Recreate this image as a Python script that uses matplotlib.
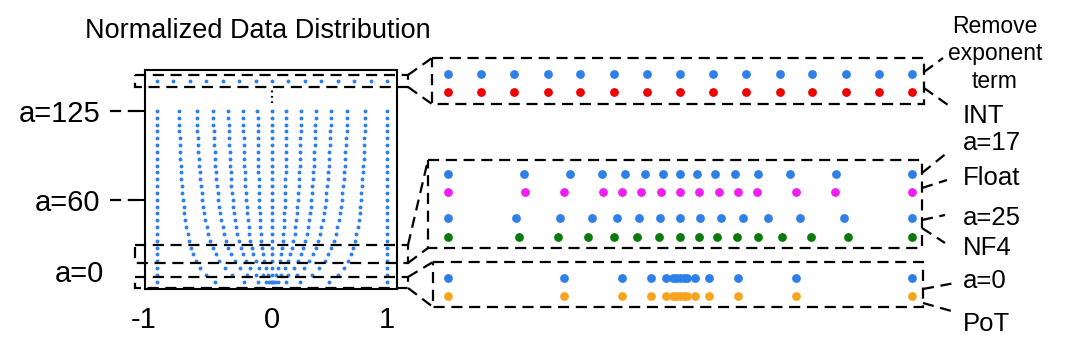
import matplotlib
matplotlib.use("Agg")
import matplotlib.pyplot as plt
from matplotlib.patches import Rectangle

plt.rcParams["font.family"] = ["Liberation Sans", "DejaVu Sans"]

# ---- data ----
# left panel: one row of 15 points per level of a; only the positive half is
# stored (the row is symmetric around 0, last value is always 1)
a_levels = [0, 5, 10, 15, 20, 25, 30, 35, 40, 45, 50, 55, 60,
            65, 70, 75, 80, 85, 90, 95, 100, 105, 110, 115, 120, 125]
row_half = [
    [0.008, 0.024, 0.055, 0.118, 0.244, 0.496, 1.0],
    [0.037, 0.080, 0.136, 0.216, 0.346, 0.574, 1.0],
    [0.056, 0.117, 0.188, 0.279, 0.411, 0.624, 1.0],
    [0.069, 0.142, 0.224, 0.323, 0.457, 0.659, 1.0],
    [0.079, 0.161, 0.251, 0.356, 0.491, 0.685, 1.0],
    [0.086, 0.175, 0.272, 0.381, 0.517, 0.705, 1.0],
    [0.092, 0.187, 0.288, 0.401, 0.537, 0.721, 1.0],
    [0.097, 0.196, 0.301, 0.417, 0.554, 0.734, 1.0],
    [0.101, 0.204, 0.312, 0.430, 0.568, 0.744, 1.0],
    [0.104, 0.210, 0.321, 0.441, 0.579, 0.753, 1.0],
    [0.107, 0.216, 0.329, 0.451, 0.589, 0.761, 1.0],
    [0.109, 0.221, 0.336, 0.459, 0.598, 0.768, 1.0],
    [0.112, 0.225, 0.342, 0.466, 0.605, 0.773, 1.0],
    [0.113, 0.229, 0.347, 0.473, 0.612, 0.778, 1.0],
    [0.115, 0.232, 0.352, 0.478, 0.618, 0.783, 1.0],
    [0.117, 0.235, 0.356, 0.483, 0.623, 0.787, 1.0],
    [0.118, 0.237, 0.360, 0.488, 0.627, 0.790, 1.0],
    [0.119, 0.240, 0.363, 0.492, 0.632, 0.794, 1.0],
    [0.120, 0.242, 0.366, 0.495, 0.635, 0.797, 1.0],
    [0.121, 0.244, 0.369, 0.499, 0.639, 0.799, 1.0],
    [0.122, 0.245, 0.371, 0.502, 0.642, 0.802, 1.0],
    [0.123, 0.247, 0.374, 0.505, 0.645, 0.804, 1.0],
    [0.124, 0.249, 0.376, 0.507, 0.648, 0.806, 1.0],
    [0.124, 0.250, 0.378, 0.510, 0.650, 0.808, 1.0],
    [0.125, 0.251, 0.380, 0.512, 0.653, 0.810, 1.0],
    [0.126, 0.252, 0.381, 0.514, 0.655, 0.811, 1.0],
]
top_level = 147  # "remove exponent term" row drawn above the curves

# right panels (positive halves, symmetric rows)
uniform_half = [0.143, 0.286, 0.429, 0.571, 0.714, 0.857, 1.0]
int_half = [0.143, 0.286, 0.429, 0.571, 0.714, 0.857, 1.0]
a17_half = [0.073, 0.150, 0.236, 0.337, 0.472, 0.671, 1.0]
float_half = [0.083, 0.167, 0.250, 0.333, 0.500, 0.667, 1.0]
a25_half = [0.086, 0.175, 0.272, 0.381, 0.517, 0.705, 1.0]
a0_half = [0.016, 0.031, 0.0625, 0.125, 0.25, 0.5, 1.0]
pot_half = [0.016, 0.031, 0.0625, 0.125, 0.25, 0.5, 1.0]
# NF4 is not symmetric
nf4_vals = [-1.0, -0.696, -0.525, -0.395, -0.284, -0.185, -0.091, 0.0,
            0.080, 0.161, 0.246, 0.338, 0.441, 0.563, 0.723, 1.0]

BLUE = "#2e7fe8"
W, H = 1080, 351


def sym(half):
    return [-v for v in reversed(half)] + [0.0] + list(half)


def fbox(x0, y0, x1, y1):
    # pixel box (top-left origin) -> figure fraction rect
    return [x0 / W, 1 - y1 / H, (x1 - x0) / W, (y1 - y0) / H]


fig = plt.figure(figsize=(10.8, 3.51), dpi=100)

# ---- left panel ----
ax = fig.add_axes(fbox(145, 70, 397, 289))
for a, half in zip(a_levels, row_half):
    xs = sym(half)
    ax.plot(xs, [a] * len(xs), "o", color=BLUE, ms=2.8, mew=0)
xs = sym(uniform_half)
ax.plot(xs, [top_level] * len(xs), "o", color=BLUE, ms=2.8, mew=0)
ax.plot([0, 0], [131, 140], color="black", lw=1.6, ls=(0, (0.8, 1.6)))

ax.set_xlim(-1.104, 1.087)
ax.set_ylim(-5.34, 155)
ax.set_xticks([-1, 0, 1])
ax.set_xticklabels(["-1", "0", "1"], fontsize=21)
ax.get_xticklabels()[0].set_ha("right")
ax.tick_params(axis="x", length=0, pad=12)
ax.set_yticks([125, 60])
ax.set_yticklabels(["a=125", "a=60"], fontsize=21)
ax.tick_params(axis="y", length=5, width=1.5, pad=27)
for s in ax.spines.values():
    s.set_linewidth(1.5)

# ---- right panels ----
rx = fig.add_axes(fbox(420, 0, 940, 351))
rx.set_xlim((420 - 680) / 232, (940 - 680) / 232)
rx.set_ylim(H, 0)
rx.axis("off")
rows = [
    (74, sym(uniform_half), BLUE),
    (92, sym(int_half), "#f00000"),
    (174, sym(a17_half), BLUE),
    (192, sym(float_half), "#f01ff0"),
    (218, sym(a25_half), BLUE),
    (237, nf4_vals, "#0a7a0a"),
    (278, sym(a0_half), BLUE),
    (296, sym(pot_half), "#f7a51f"),
]
for y, vals, c in rows:
    rx.scatter(vals, [y] * len(vals), s=40, color=c, linewidths=0)

# ---- overlay: dashed boxes, connectors, labels ----
ov = fig.add_axes([0, 0, 1, 1])
ov.set_xlim(0, W)
ov.set_ylim(H, 0)
ov.axis("off")
ov.patch.set_alpha(0)
dash = dict(color="black", lw=1.6, ls=(0, (5, 3)))

for x0, y0, w, h in [(135, 75, 273, 12), (135, 245, 273, 18), (135, 277, 273, 11),
                     (432, 58, 492, 46), (428, 160, 494, 88), (433, 262, 490, 45)]:
    ov.add_patch(Rectangle((x0, y0), w, h, fill=False, **dash))

segs = [
    [(408, 75), (432, 58)], [(408, 87), (432, 104)],
    [(408, 245), (428, 160)], [(408, 263), (428, 248)],
    [(408, 277), (433, 262)], [(408, 288), (433, 307)],
    [(924, 72), (943, 58)], [(924, 88), (948, 105)],
    [(922, 173), (948, 152)], [(922, 188), (947, 180)],
    [(922, 220), (945, 215)], [(922, 228), (945, 243)],
    [(923, 289), (955, 283)], [(923, 303), (955, 312)],
    [(110, 111), (140, 111)], [(110, 200), (140, 200)],
]
for (x0, y0), (x1, y1) in segs:
    ov.plot([x0, x1], [y0, y1], **dash)

ov.text(258, 38, "Normalized Data Distribution", fontsize=19.5,
        ha="center", va="baseline")
ov.text(104, 274, "a=0", fontsize=21, ha="right", va="center")

for y, t in [(33, "Remove"), (60, "exponent"), (88, "term")]:
    ov.text(995, y, t, fontsize=16.5, ha="center", va="baseline")
for y, t in [(123, "INT"), (150, "a=17"), (185, "Float"), (225, "a=25"),
             (255, "NF4"), (288, "a=0"), (331, "PoT")]:
    ov.text(963, y, t, fontsize=18.5, ha="left", va="baseline")

fig.savefig("out.png", dpi=100)
